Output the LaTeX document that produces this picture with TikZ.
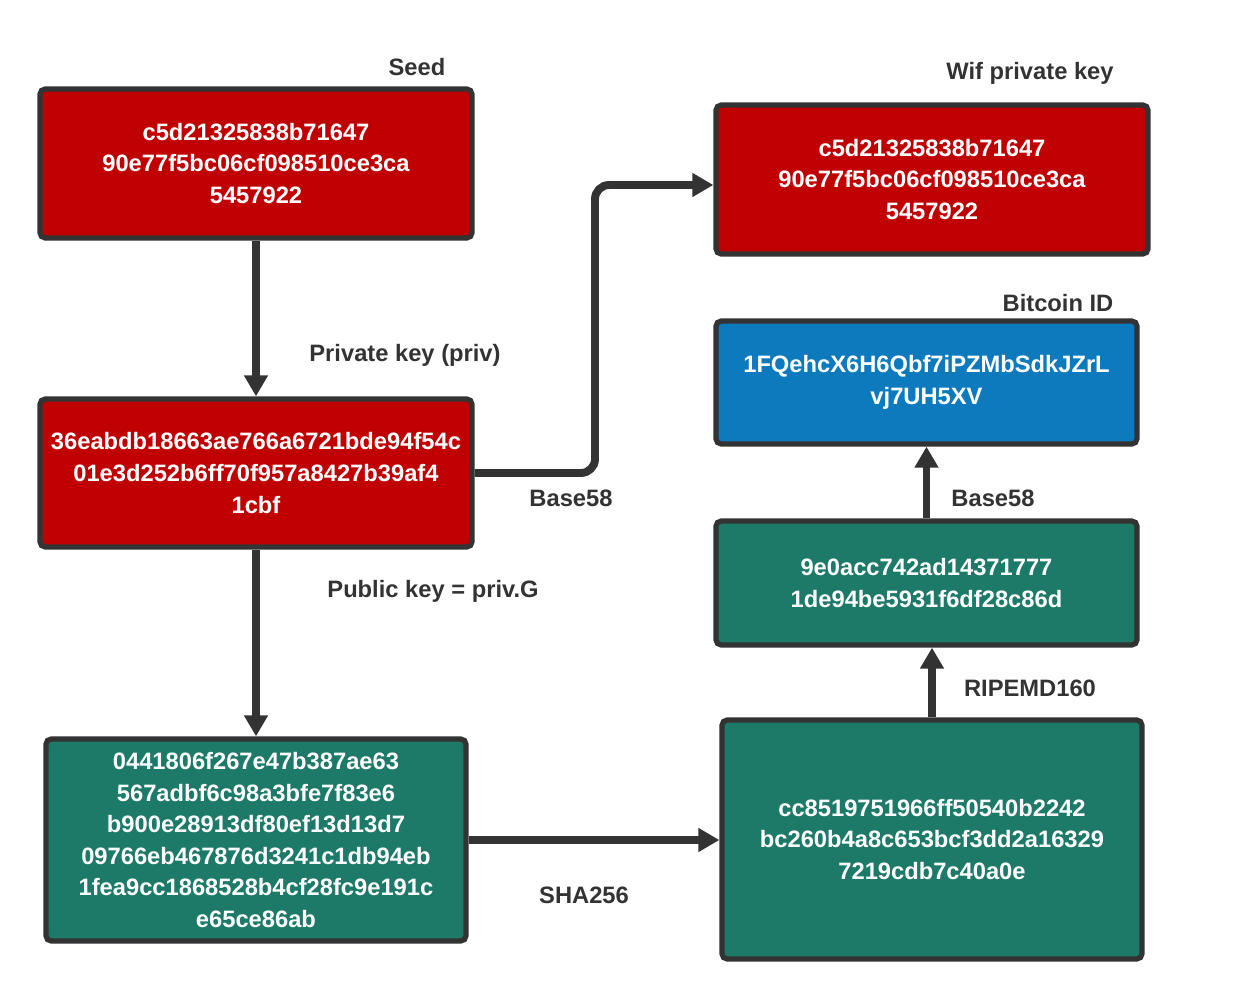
\documentclass[tikz,border=0pt]{standalone}
\usepackage{fontspec}
\setmainfont{Liberation Sans}
\usetikzlibrary{positioning,arrows.meta}
\definecolor{keyred}{RGB}{192,0,0}
\definecolor{idblue}{RGB}{14,122,190}
\definecolor{hashgreen}{RGB}{30,122,104}
\definecolor{edgegrey}{RGB}{51,51,51}
\tikzset{
  box/.style={draw=edgegrey, line width=3pt, rounded corners=3pt, align=center,
    text=white, inner sep=0pt, font=\bfseries\fontsize{13.5}{18}\selectfont},
  lbl/.style={text=edgegrey, font=\bfseries\fontsize{13.5}{16}\selectfont},
  flow/.style={draw=edgegrey, line width=4.5pt, -{Triangle[length=12pt,width=13pt]}}
}
\begin{document}
\begin{tikzpicture}[x=0.02cm,y=-0.02cm]
    \useasboundingbox (0,0) rectangle (1239,999);

    \node[box, fill=keyred, minimum width=432*0.02cm, minimum height=149*0.02cm] (seed) at (256,163.5)
        {c5d21325838b71647\\90e77f5bc06cf098510ce3ca\\5457922};
    \node[box, fill=keyred, minimum width=432*0.02cm, minimum height=149*0.02cm] (wif) at (932,179.5)
        {c5d21325838b71647\\90e77f5bc06cf098510ce3ca\\5457922};
    \node[box, fill=keyred, minimum width=432*0.02cm, minimum height=148*0.02cm] (priv) at (256,473)
        {\makebox[0pt]{36eabdb18663ae766a6721bde94f54c}\\01e3d252b6ff70f957a8427b39af4\\1cbf};
    \node[box, fill=idblue, minimum width=421*0.02cm, minimum height=123*0.02cm] (btcid) at (926.5,382.5)
        {1FQehcX6H6Qbf7iPZMbSdkJZrL\\vj7UH5XV};
    \node[box, fill=hashgreen, minimum width=421*0.02cm, minimum height=124*0.02cm] (ripe) at (926.5,583)
        {9e0acc742ad14371777\\1de94be5931f6df28c86d};
    \node[box, fill=hashgreen, minimum width=420*0.02cm, minimum height=202*0.02cm] (pub) at (256,840)
        {0441806f267e47b387ae63\\567adbf6c98a3bfe7f83e6\\b900e28913df80ef13d13d7\\09766eb467876d3241c1db94eb\\1fea9cc1868528b4cf28fc9e191c\\e65ce86ab};
    \node[box, fill=hashgreen, minimum width=420*0.02cm, minimum height=239*0.02cm] (sha) at (932,839.5)
        {cc8519751966ff50540b2242\\bc260b4a8c653bcf3dd2a16329\\7219cdb7c40a0e};

    % labels
    \node[lbl] (seedlbl) at (417,67) {Seed};
    \node[lbl] (wiflbl) at (1030,73) {Wif private key};
    \node[lbl] (privlbl) at (405,355) {Private key (priv)};
    \node[lbl] (btclbl) at (1058,303) {Bitcoin ID};
    \node[lbl] (b58a) at (571,498) {Base58};
    \node[lbl] (b58b) at (993,498) {Base58};
    \node[lbl] (publbl) at (433,591) {Public key = priv.G};
    \node[lbl] (ripelbl) at (1030,688) {RIPEMD160};
    \node[lbl] (shalbl) at (584,895) {SHA256};

    % connectors
    \draw[flow] (seed.south) -- (priv.north);
    \draw[flow, rounded corners=8pt] (priv.east) -- (595,473) -- (595,185) -- (wif.west |- 0,185);
    \draw[flow] (priv.south) -- (pub.north);
    \draw[flow] (pub.east) -- (sha.west |- pub.east);
    \draw[flow] (sha.north -| 932,0) -- (ripe.south -| 932,0);
    \draw[flow] (ripe.north) -- (btcid.south);
\end{tikzpicture}
\end{document}
